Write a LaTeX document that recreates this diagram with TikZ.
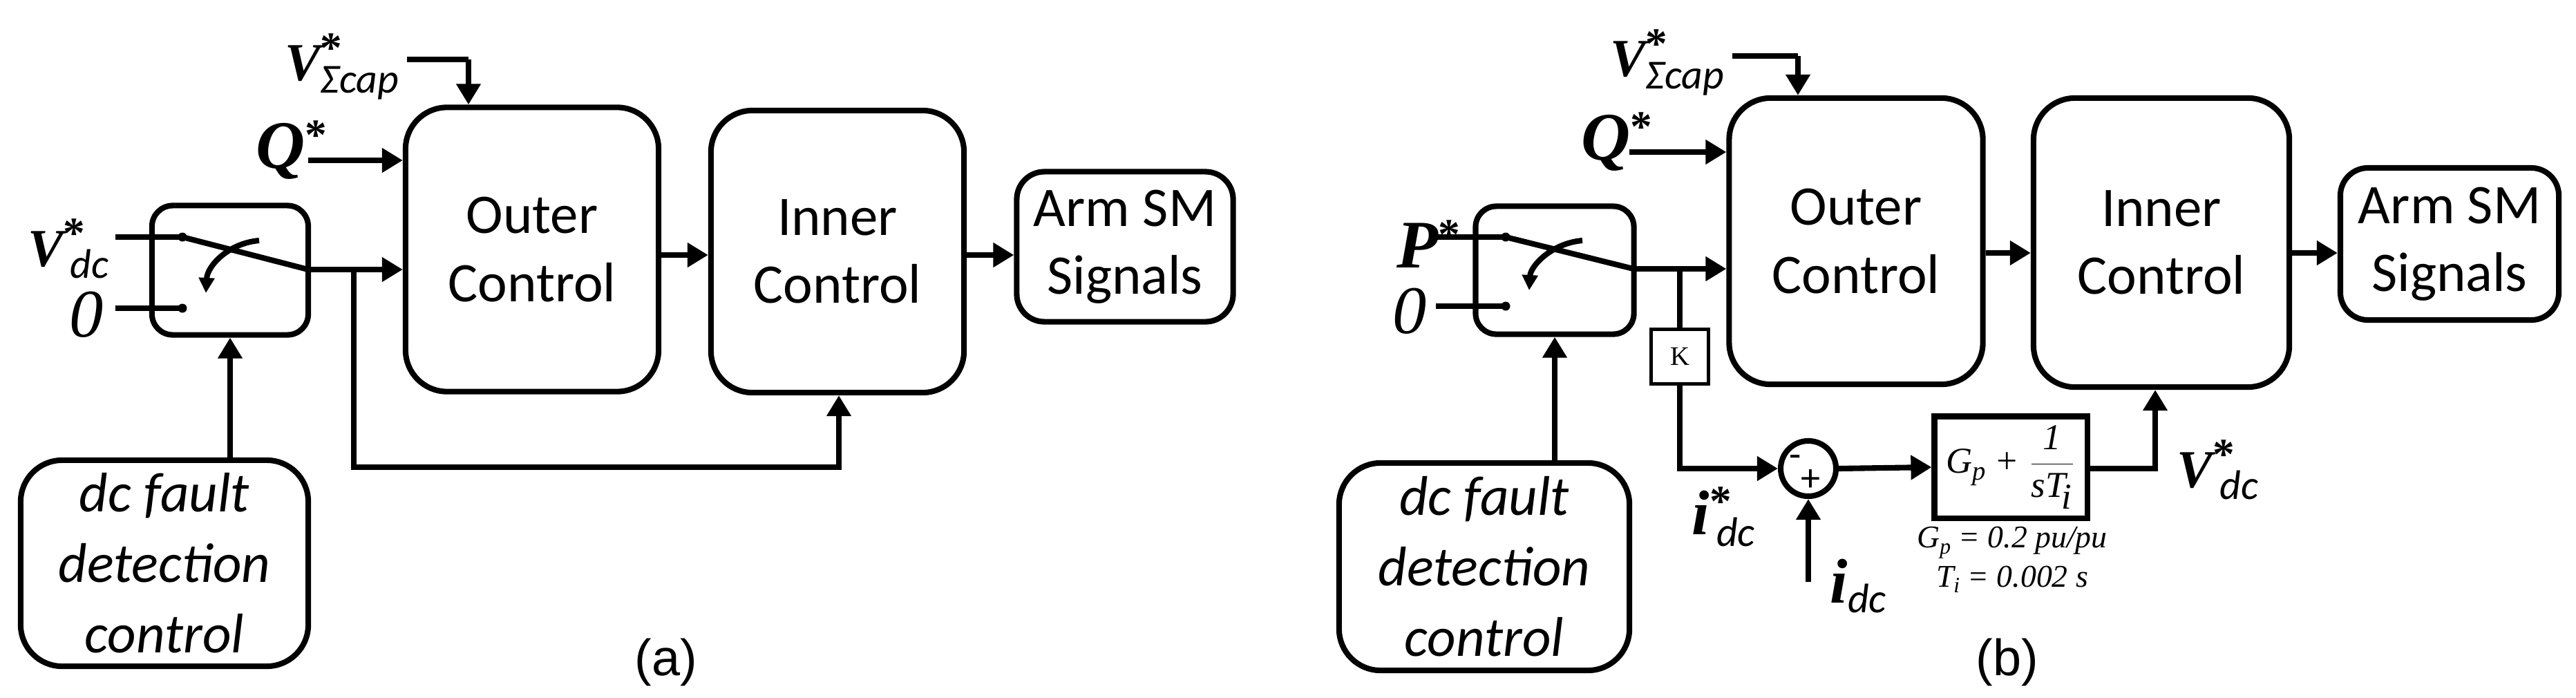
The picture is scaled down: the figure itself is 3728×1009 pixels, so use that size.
\documentclass[tikz,border=0pt]{standalone}
\usepackage{fontspec}
\setmainfont{Carlito}
\newfontfamily\lbl{Liberation Serif}
\newfontfamily\capf{Liberation Sans}
\usetikzlibrary{arrows.meta}
\newcommand{\lab}[3]{{\fontsize{#1}{#1}\selectfont\lbl\bfseries\itshape #2}\rlap{\raisebox{1.6ex}{\fontsize{18}{18}\selectfont\lbl\bfseries *}}{\fontsize{17}{17}\selectfont\itshape\raisebox{-0.6ex}{#3}}}
\begin{document}
\begin{tikzpicture}[x=0.01cm,y=-0.01cm,
  box/.style={draw,line width=2.3pt,rounded corners=0.6cm,align=center,inner sep=0pt,
    font=\fontsize{23}{28}\selectfont},
  sq/.style={draw,line width=2.3pt,inner sep=0pt},
  ln/.style={line width=2.3pt},
  arr/.style={line width=2.3pt,-{Triangle[length=0.3cm,width=0.34cm]}},
  dot/.style={circle,fill,inner sep=0pt,minimum size=0.13cm}]
\useasboundingbox (0,0) rectangle (3728,1009);

% ---------------- panel (a)
\node[box,rounded corners=0.3cm,minimum width=2.26cm,minimum height=1.87cm] (swA) at (333,391) {};
\node[box,minimum width=3.66cm,minimum height=4.11cm] (outA) at (770,361) {Outer\\Control};
\node[box,minimum width=3.66cm,minimum height=4.08cm] (inA) at (1212,364) {Inner\\Control};
\node[box,rounded corners=0.4cm,minimum width=3.13cm,minimum height=2.17cm] (armA) at (1628,357) {Arm SM\\Signals};
\node[box,font=\fontsize{23}{29}\selectfont\itshape,minimum width=4.16cm,minimum height=2.98cm] (dcA) at (238,815) {dc fault\\detection\\control};

\node[anchor=east,inner sep=0pt] (vsA) at (578,96) {\lab{22}{V}{Σcap}};
\node[anchor=east,inner sep=0pt] (qA) at (442,218) {\lab{28}{Q}{}};
\node[anchor=east,inner sep=0pt] (vdcA) at (158,360) {\lab{22}{V}{\,dc}};
\node[anchor=east,inner sep=0pt,font=\fontsize{28}{28}\selectfont\lbl\itshape] (zA) at (150,455) {0};
\node[font=\fontsize{21}{21}\selectfont\capf] (capA) at (964,958) {(a)};

\coordinate (vsAs) at (589,86);
\coordinate (vsAc) at (678,86);
\draw[ln] (vsAs) -- (vsAc);
\draw[arr] (vsAc) -- (vsAc |- outA.north);
\coordinate (qAs) at (446,232);
\draw[arr] (qAs) -- (qAs -| outA.west);

\coordinate (cA1s) at (167,343); \coordinate (cA1) at (264,343);
\coordinate (cA2s) at (167,446); \coordinate (cA2) at (264,446);
\draw[ln] (cA1s) -- (cA1); \node[dot] at (cA1) {};
\draw[ln] (cA2s) -- (cA2); \node[dot] at (cA2) {};
\coordinate (swAe) at (446,390);
\draw[ln] (cA1) -- (swAe);
\draw[line width=2.3pt,-{Triangle[length=0.22cm,width=0.22cm]}] (375,348) .. controls (330,352) and (300,385) .. (298,424);
\draw[arr] (swAe) -- (swAe -| outA.west);
\coordinate (jA) at (512,390);
\coordinate (fbA) at (1214,676);
\draw[arr] (jA) |- (fbA) -- (fbA |- inA.south);
\draw[arr] (outA.east |- 0,369) -- (inA.west |- 0,369);
\draw[arr] (inA.east |- 0,369) -- (armA.west |- 0,369);
\draw[arr] (dcA.north -| swA.south) -- (swA.south);

% ---------------- panel (b)
\node[box,rounded corners=0.3cm,minimum width=2.29cm,minimum height=1.85cm] (swB) at (2250,391) {};
\node[box,minimum width=3.67cm,minimum height=4.14cm] (outB) at (2686,349) {Outer\\Control};
\node[box,minimum width=3.7cm,minimum height=4.18cm] (inB) at (3128,351) {Inner\\Control};
\node[box,rounded corners=0.4cm,minimum width=3.16cm,minimum height=2.2cm] (armB) at (3545,353) {Arm SM\\Signals};
\node[box,font=\fontsize{23}{29}\selectfont\itshape,minimum width=4.2cm,minimum height=3.0cm] (dcB) at (2148,820) {dc fault\\detection\\control};
\node[sq,line width=1.5pt,minimum width=0.83cm,minimum height=0.79cm,font=\fontsize{11}{11}\selectfont\lbl] (K) at (2431,516) {K};
\node[draw,circle,line width=2.3pt,minimum size=0.8cm,inner sep=0pt] (sum) at (2617,678) {};
\node[font=\fontsize{16}{16}\selectfont] at (2598,668) {-};
\node[font=\fontsize{16}{16}\selectfont] at (2620,695) {+};
\node[sq,minimum width=2.21cm,minimum height=1.47cm,font=\fontsize{15}{15}\selectfont\lbl\itshape] (PI) at (2910,676)
  {G\raisebox{-0.4ex}{\fontsize{11}{11}\selectfont p} + $\displaystyle\frac{\textit{1}}{\textit{sT}_{\!\textit{i}}}$};
\node[align=center,font=\fontsize{13}{16}\selectfont\lbl\itshape] (gp) at (2912,810)
  {G\raisebox{-0.4ex}{\fontsize{9}{9}\selectfont p} = 0.2 pu/pu\\T\raisebox{-0.4ex}{\fontsize{9}{9}\selectfont i} = 0.002 s};

\node[anchor=east,inner sep=0pt] (vsB) at (2496,90) {\lab{22}{V}{Σcap}};
\node[anchor=east,inner sep=0pt] (qB) at (2360,206) {\lab{28}{Q}{}};
\node[anchor=east,inner sep=0pt] (pB) at (2082,362) {\lab{28}{P}{}};
\node[anchor=east,inner sep=0pt,font=\fontsize{28}{28}\selectfont\lbl\itshape] (zB) at (2065,450) {0};
\node[anchor=west,inner sep=0pt] (vdcB) at (3150,680) {\lab{22}{V}{\,dc}};
\node[anchor=west,inner sep=0pt] (idcsB) at (2448,748) {\lab{26}{i}{\,dc}};
\node[anchor=west,inner sep=0pt] (idcB) at (2648,848) {{\fontsize{26}{26}\selectfont\lbl\bfseries\itshape i}{\fontsize{17}{17}\selectfont\itshape\raisebox{-0.5ex}{dc}}};
\node[font=\fontsize{21}{21}\selectfont\capf] (capB) at (2905,958) {(b)};

\coordinate (vsBs) at (2507,81);
\coordinate (vsBc) at (2602,81);
\draw[ln] (vsBs) -- (vsBc);
\draw[arr] (vsBc) -- (vsBc |- outB.north);
\coordinate (qBs) at (2358,220);
\draw[arr] (qBs) -- (qBs -| outB.west);

\coordinate (cB1s) at (2078,343); \coordinate (cB1) at (2179,343);
\coordinate (cB2s) at (2078,443); \coordinate (cB2) at (2179,443);
\draw[ln] (cB1s) -- (cB1); \node[dot] at (cB1) {};
\draw[ln] (cB2s) -- (cB2); \node[dot] at (cB2) {};
\coordinate (swBe) at (2364,389);
\draw[ln] (cB1) -- (swBe);
\draw[line width=2.3pt,-{Triangle[length=0.22cm,width=0.22cm]}] (2290,348) .. controls (2245,352) and (2215,385) .. (2213,420);
\draw[arr] (swBe) -- (swBe -| outB.west);
\coordinate (jB) at (2431,389);
\draw[ln] (jB) -- (K.north);
\draw[arr] (K.south) |- (sum.west);
\draw[arr] (sum.east) -- (PI.west);
\coordinate (idcs) at (2617,842);
\draw[arr] (idcs) -- (sum.south);
\coordinate (vdcc) at (3119,678);
\draw[arr] (PI.east |- vdcc) -- (vdcc) -- (vdcc |- inB.south);
\draw[arr] (outB.east |- 0,366) -- (inB.west |- 0,366);
\draw[arr] (inB.east |- 0,366) -- (armB.west |- 0,366);
\draw[arr] (dcB.north -| swB.south) -- (swB.south);
\end{tikzpicture}
\end{document}
